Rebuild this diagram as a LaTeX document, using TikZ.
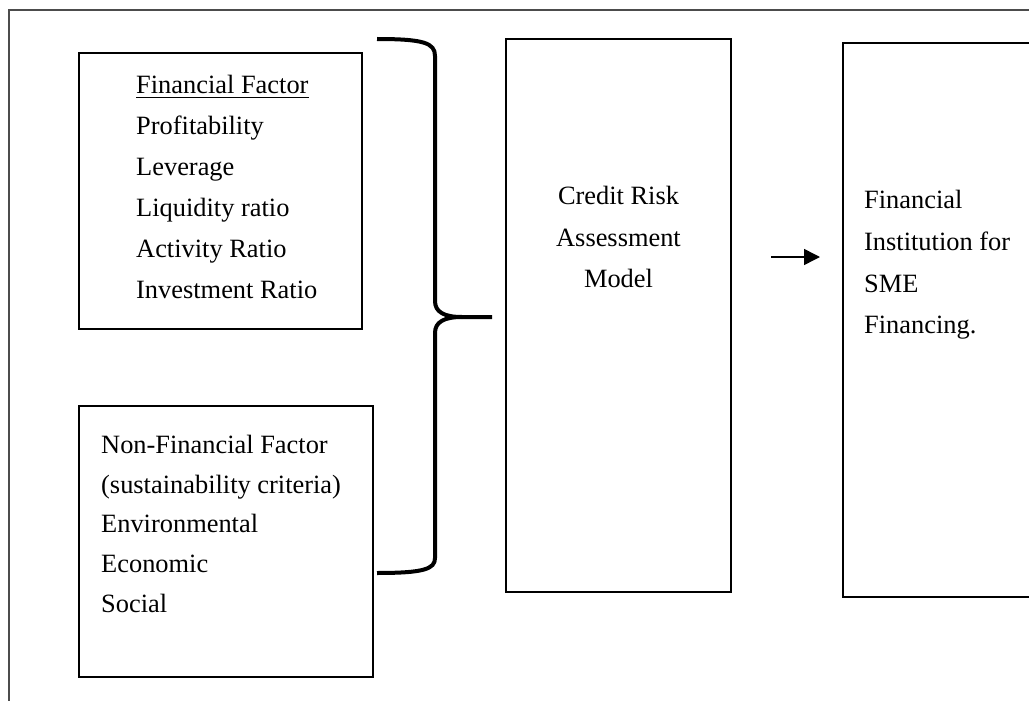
\documentclass[tikz,border=0pt]{standalone}
\usepackage{fontspec}
\setmainfont{Liberation Serif}
\usetikzlibrary{arrows.meta}
\begin{document}
\begin{tikzpicture}[x=1pt,y=-1pt,
  box/.style={draw=black, line width=1.5pt, inner sep=0pt, outer sep=0pt, anchor=north west},
  txt/.style={anchor=base west, inner sep=0pt, font=\fontsize{26.4}{32}\selectfont},
  ctxt/.style={anchor=base, inner sep=0pt, font=\fontsize{26.4}{32}\selectfont},
  frameline/.style={draw=black!70, line width=1.3pt},
  bracestyle/.style={line width=4pt, line cap=butt},
  arrowstyle/.style={line width=1.5pt, -{Triangle[length=16pt,width=16pt]}}
]
\useasboundingbox (0,0) rectangle (1029,701);
\clip (0,0) rectangle (1029,701);
\draw[frameline] (9,705) -- (9,10) -- (1035,10);

% boxes
\node[box, minimum width=283, minimum height=276] (fin) at (79,53) {};
\node[box, minimum width=294, minimum height=271] (nonfin) at (79,406) {};
\node[box, minimum width=225, minimum height=553] (model) at (506,39) {};
\node[box, minimum width=220, minimum height=554] (inst) at (843,43) {};

% box 1 text
\node[txt] (ff) at (136,94) {Financial Factor};
\draw[line width=1.4pt] ([yshift=-3.5]ff.base west) -- ([yshift=-3.5]ff.base east);
\node[txt] (f1) at (136,134.8) {Profitability};
\node[txt] (f2) at (136,175.6) {Leverage};
\node[txt] (f3) at (136,216.4) {Liquidity ratio};
\node[txt] (f4) at (136,257.2) {Activity Ratio};
\node[txt] (f5) at (136,298) {Investment Ratio};

% box 2 text
\node[txt] (n0) at (101,453) {Non-Financial Factor};
\node[txt] (n1) at (101,493) {(sustainability criteria)};
\node[txt] (n2) at (101,532.5) {Environmental};
\node[txt] (n3) at (101,572) {Economic};
\node[txt] (n4) at (101,612) {Social};

% box 3 text
\node[ctxt] (m1) at (618.5,204) {Credit Risk};
\node[ctxt] (m2) at (618.5,246) {Assessment};
\node[ctxt] (m3) at (618.5,287) {Model};

% box 4 text
\node[txt] (i1) at (864,208) {Financial};
\node[txt] (i2) at (864,250) {Institution for};
\node[txt] (i3) at (864,292) {SME};
\node[txt] (i4) at (864,333) {Financing.};

% brace
\draw[bracestyle] (377,39) .. controls (424,39) and (435,43) .. (435,56) -- (435,301)
  .. controls (435,312) and (444,317) .. (462,317) -- (492,317);
\draw[bracestyle] (462,317) .. controls (444,317) and (435,322) .. (435,333) -- (435,558)
  .. controls (435,569) and (424,573) .. (377,573);

% arrow
\coordinate (a1) at (771,257);
\coordinate (a2) at (820,257);
\draw[arrowstyle] (a1) -- (a2);
\end{tikzpicture}
\end{document}
